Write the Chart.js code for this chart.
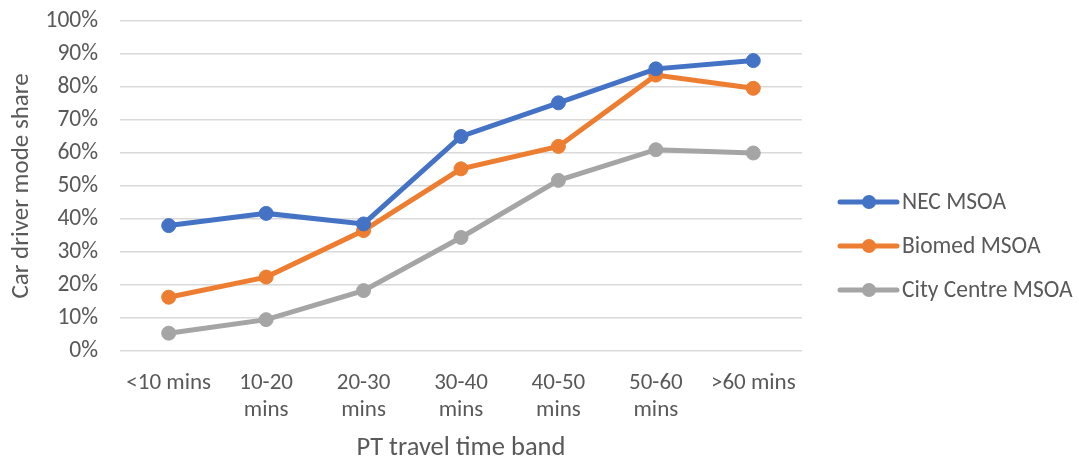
<!DOCTYPE html>
<html>
<head>
<meta charset="utf-8">
<script src="https://cdn.jsdelivr.net/npm/chart.js@4"></script>
<style>
	body { margin: 0; background: #ffffff; }
	#box { width: 1079px; height: 463px; }
</style>
</head>
<body>
<div id="box"><canvas id="grafico"></canvas></div>
<script>
// dados do grafico
var categorias = ["<10 mins", ["10-20", "mins"], ["20-30", "mins"], ["30-40", "mins"], ["40-50", "mins"], ["50-60", "mins"], ">60 mins"];
var nomesSeries = ["NEC MSOA", "Biomed MSOA", "City Centre MSOA"];
var valoresNEC = [38, 41.7, 38.5, 65, 75.2, 85.5, 88];
var valoresBiomed = [16.3, 22.4, 36.5, 55.2, 62, 83.6, 79.6];
var valoresCity = [5.4, 9.5, 18.3, 34.4, 51.7, 61, 60];
var coresSeries = ["#4472C4", "#ED7D31", "#A5A5A5"];
var tituloY = "Car driver mode share";
var tituloX = "PT travel time band";

var fonte = "Carlito, 'Liberation Sans', sans-serif";
var corTexto = "#595959";

function criarSerie(i, valores) {
	return {
		label: nomesSeries[i],
		data: valores,
		borderColor: coresSeries[i],
		backgroundColor: coresSeries[i],
		borderWidth: 5,
		pointRadius: 7,
		pointBorderWidth: 1,
		pointBackgroundColor: coresSeries[i],
		tension: 0,
	};
}

// legenda no estilo do excel (linha com bolinha)
var legendaExcel = {
	id: "legendaExcel",
	afterDraw: function (chart) {
		var ctx = chart.ctx;
		var area = chart.chartArea;
		ctx.save();
		for (var i = 0; i < chart.data.datasets.length; i++) {
			var ds = chart.data.datasets[i];
			var y = area.top + 181 + i * 44;
			var x0 = area.right + 38;
			ctx.strokeStyle = ds.borderColor;
			ctx.lineWidth = 5;
			ctx.lineCap = "round";
			ctx.beginPath();
			ctx.moveTo(x0, y);
			ctx.lineTo(x0 + 57, y);
			ctx.stroke();
			ctx.fillStyle = ds.borderColor;
			ctx.beginPath();
			ctx.arc(x0 + 29, y, 7, 0, Math.PI * 2);
			ctx.fill();
			ctx.fillStyle = corTexto;
			ctx.font = "23.5px " + fonte;
			ctx.textBaseline = "middle";
			ctx.textAlign = "left";
			ctx.fillText(ds.label, x0 + 62, y + 1);
		}
		ctx.restore();
	},
};

var grafico = new Chart(document.getElementById("grafico"), {
	type: "line",
	data: {
		labels: categorias,
		datasets: [
			criarSerie(0, valoresNEC),
			criarSerie(1, valoresBiomed),
			criarSerie(2, valoresCity),
		],
	},
	options: {
		responsive: true,
		maintainAspectRatio: false,
		animation: false,
		layout: {
			padding: { top: 21, right: 277, bottom: 0, left: 0 },
		},
		plugins: {
			legend: { display: false },
			tooltip: { enabled: false },
		},
		scales: {
			x: {
				offset: true,
				grid: { display: false, drawTicks: false },
				border: { display: false },
				ticks: {
					color: corTexto,
					font: { family: fonte, size: 23, lineHeight: 1.2 },
					padding: 18,
					maxRotation: 0,
					autoSkip: false,
				},
				title: {
					display: true,
					text: tituloX,
					color: corTexto,
					font: { family: fonte, size: 26.5, lineHeight: 1.1 },
					padding: { top: 4, bottom: 0 },
				},
				afterFit: function (scale) {
					scale.height = 112;
					scale.paddingLeft = 0;
					scale.paddingRight = 0;
				},
			},
			y: {
				min: 0,
				max: 100,
				grid: { color: "#D9D9D9", lineWidth: 1.5, drawTicks: false },
				border: { display: false },
				ticks: {
					stepSize: 10,
					color: corTexto,
					font: { family: fonte, size: 23.5 },
					padding: 22,
					callback: function (v) {
						return v + "%";
					},
				},
				title: {
					display: true,
					text: tituloY,
					color: corTexto,
					font: { family: fonte, size: 25, lineHeight: 1.2 },
					padding: { top: 7, bottom: 4 },
				},
				afterFit: function (scale) {
					scale.width = 120;
					scale.paddingTop = 0;
					scale.paddingBottom = 0;
				},
			},
		},
	},
	plugins: [legendaExcel],
});
</script>
</body>
</html>
